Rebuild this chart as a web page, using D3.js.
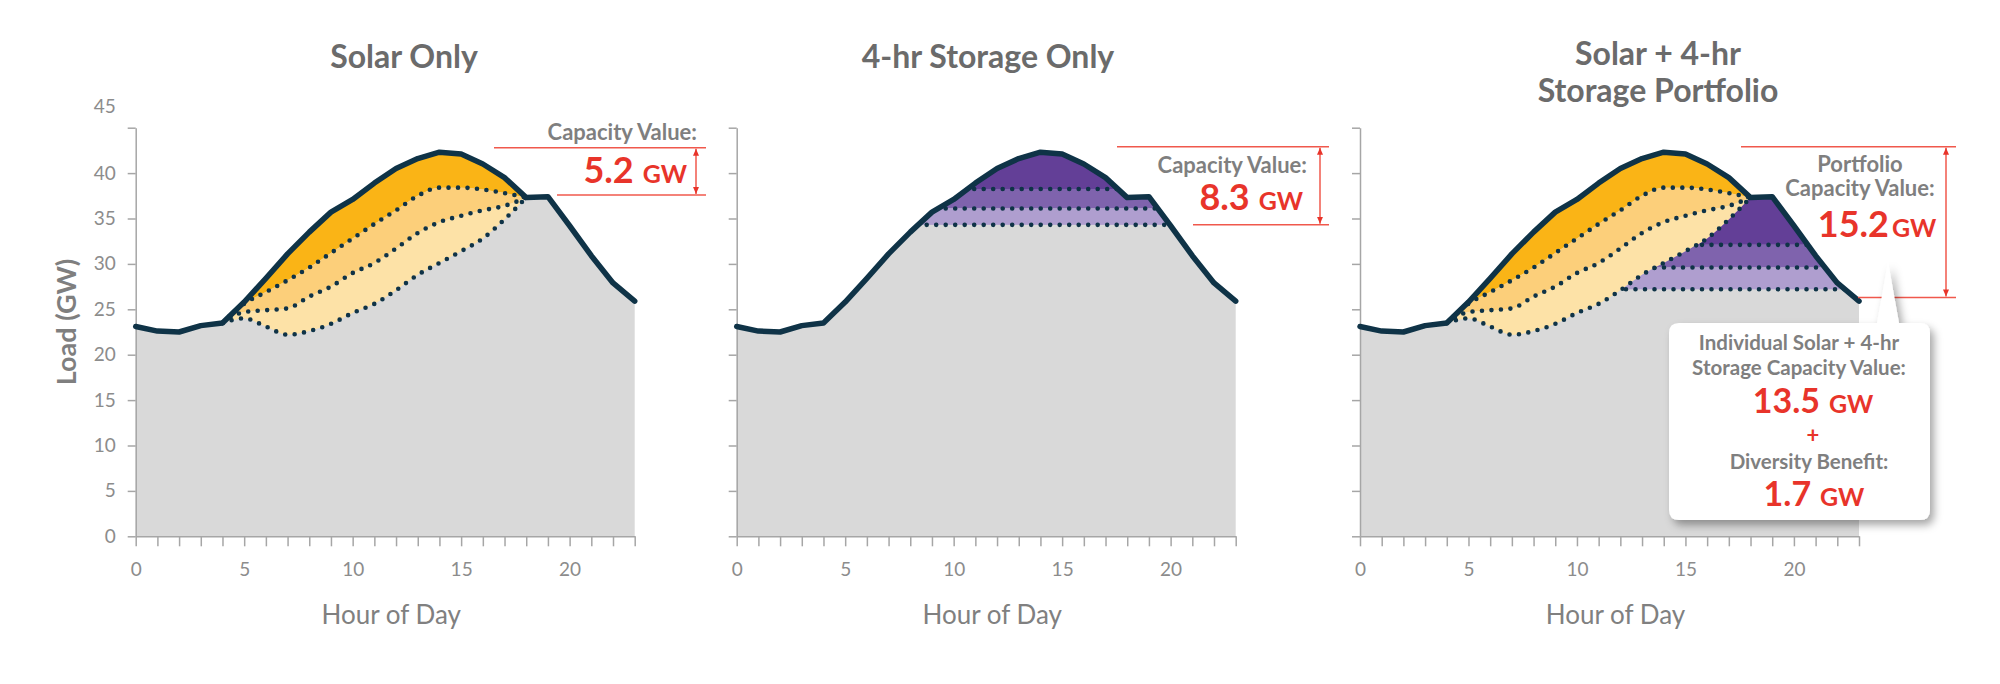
<!DOCTYPE html>
<meta charset="utf-8">
<style>
body { margin: 0; background: #fff; }
svg { display: block; font-family: Lato, "Open Sans", sans-serif; }
.axis path, .axis line { stroke: #a6a6a6; stroke-width: 1.5px; }
.axis text { fill: #8c8c8c; font-size: 19px; font-family: Lato, sans-serif; }
.title { fill: #6b6b6b; font-size: 32px; font-weight: bold; text-anchor: middle; }
.xlabel { fill: #808080; font-size: 26px; text-anchor: middle; }
.ylabel { fill: #7f7f7f; font-size: 27px; font-weight: bold; text-anchor: middle; }
.note { fill: #7f7f7f; font-size: 22px; font-weight: bold; }
.box .note { font-size: 20.5px; }
.big { fill: #e8342a; font-weight: bold; font-size: 36px; }
.box .big { font-size: 34px; }
.big tspan { font-size: 25px; }
.load { fill: none; stroke: #0f3347; stroke-width: 5.5px; stroke-linejoin: round; stroke-linecap: round; }
.dots { fill: none; stroke: #0f3347; stroke-width: 4.6px; stroke-linecap: round; stroke-dasharray: 0 9.5; }
.red { stroke: #f0584c; stroke-width: 1.5px; fill: none; }
</style>
<body>
<svg width="2000" height="684"></svg>
<script src="https://cdn.jsdelivr.net/npm/d3@7"></script>
<script>
// hourly load (GW)
var hours = d3.range(24);
var load = [23.1, 22.6, 22.5, 23.2, 23.5, 25.8, 28.4, 31.1, 33.5, 35.7, 37.1, 38.9,
            40.5, 41.6, 42.3, 42.1, 41.0, 39.5, 37.3, 37.4, 34.2, 30.9, 27.9, 25.9];

// net load after three solar tranches (hours 4..18)
var solarHours = d3.range(4, 19);
var solarNet1 = [23.5, 25.6, 26.9, 28.2, 29.6, 31.2, 32.8, 34.4, 35.9, 37.5, 38.4, 38.4, 38.2, 37.8, 37.3];
var solarNet2 = [23.5, 24.7, 24.9, 25.1, 26.4, 27.5, 29.0, 30.1, 31.7, 33.4, 34.6, 35.3, 35.9, 36.4, 37.3];
var solarNet3 = [23.5, 24.0, 23.1, 22.2, 22.6, 23.4, 24.6, 25.6, 27.1, 28.8, 30.1, 31.4, 32.8, 34.9, 37.3];

// storage dispatch levels (GW)
var storageLevels = [38.25, 36.1, 34.3];
var portfolioLevels = [32.1, 29.6, 27.2];

var panelTitles = [["Solar Only"], ["4-hr Storage Only"], ["Solar + 4-hr", "Storage Portfolio"]];
var yTicks = d3.range(0, 46, 5);
var xLabelTicks = [0, 5, 10, 15, 20];

// capacity value brackets (GW levels) and labels
var bracketTop = [42.8, 42.9, 42.9];
var bracketBottom = [37.6, 34.3, 26.3];
var capValues = ["5.2", "8.3", "15.2"];
var individualValue = "13.5";
var diversityValue = "1.7";

var orange = ["#fab416", "#fccf7a", "#fde2a7"];
var purple = ["#633f97", "#7f63ad", "#af9ecf"];
var gray = "#d9d9d9";

var svg = d3.select("svg"),
    defs = svg.append("defs"),
    panelX = [135.7, 736.7, 1360],
    plotTop = 127.7,
    width = 499,
    height = 408.6;

var x = d3.scaleLinear().domain([0, 23]).range([0, width]),
    y = d3.scaleLinear().domain([0, 45]).range([height, 0]);

function yAbs(v) { return plotTop + y(v); }

defs.append("marker")
    .attr("id", "arr")
    .attr("markerUnits", "userSpaceOnUse")
    .attr("markerWidth", 8).attr("markerHeight", 8)
    .attr("refX", 7).attr("refY", 4)
    .attr("orient", "auto-start-reverse")
  .append("path")
    .attr("d", "M0,1 L7,4 L0,7 z")
    .attr("fill", "#e8342a");

var shadow = defs.append("filter").attr("id", "shadow")
    .attr("x", "-20%").attr("y", "-20%").attr("width", "140%").attr("height", "140%");
shadow.append("feDropShadow")
    .attr("dx", 4).attr("dy", 5).attr("stdDeviation", 4)
    .attr("flood-color", "#000").attr("flood-opacity", 0.35);

var solarData = solarHours.map(function(h, j) {
  return {h: h, a: solarNet1[j], b: solarNet2[j], c: solarNet3[j]};
});

var loadArea = d3.area()
    .x(function(d, j) { return x(j); })
    .y0(y(0))
    .y1(function(d) { return y(d); });

var loadLine = d3.line()
    .x(function(d, j) { return x(j); })
    .y(function(d) { return y(d); });

function drawPanel(i, hasSolar, levels) {
  var g = svg.append("g").attr("transform", "translate(" + panelX[i] + "," + plotTop + ")");

  defs.append("clipPath").attr("id", "load" + i)
    .append("path").attr("d", loadArea(load));

  g.append("path").attr("d", loadArea(load)).attr("fill", gray);

  var inner = g.append("g").attr("clip-path", "url(#load" + i + ")");

  if (hasSolar) {
    var band = d3.area().curve(d3.curveMonotoneX).x(function(d) { return x(d.h); });
    inner.append("path").attr("fill", orange[0])
        .attr("d", band.y0(function(d) { return y(d.a); }).y1(y(45))(solarData));
    inner.append("path").attr("fill", orange[1])
        .attr("d", band.y0(function(d) { return y(d.b); }).y1(function(d) { return y(d.a); })(solarData));
    inner.append("path").attr("fill", orange[2])
        .attr("d", band.y0(function(d) { return y(d.c); }).y1(function(d) { return y(d.b); })(solarData));
  }

  if (levels) {
    var st = inner;
    if (hasSolar) {
      // storage sits under the net load left after solar
      var cp = defs.append("clipPath").attr("id", "net" + i);
      cp.append("path").attr("d", d3.area().curve(d3.curveMonotoneX)
          .x(function(d) { return x(d.h); }).y0(y(0)).y1(function(d) { return y(d.c); })(solarData));
      cp.append("rect").attr("x", x(0)).attr("y", 0).attr("width", x(solarHours[0]) - x(0)).attr("height", height);
      cp.append("rect").attr("x", x(solarHours[solarHours.length - 1])).attr("y", 0)
          .attr("width", x(23) - x(solarHours[solarHours.length - 1])).attr("height", height);
      st = inner.append("g").attr("clip-path", "url(#net" + i + ")");
    }
    var tops = [45].concat(levels.slice(0, 2));
    st.selectAll("rect.band").data(levels).enter().append("rect")
        .attr("class", "band")
        .attr("x", x(0)).attr("width", x(23) - x(0))
        .attr("y", function(d, j) { return y(tops[j]); })
        .attr("height", function(d, j) { return y(d) - y(tops[j]); })
        .attr("fill", function(d, j) { return purple[j]; });
    st.selectAll("line.lvl").data(levels).enter().append("line")
        .attr("class", "dots")
        .attr("x1", x(0)).attr("x2", x(23))
        .attr("y1", function(d) { return y(d); }).attr("y2", function(d) { return y(d); });
  }

  if (hasSolar) {
    ["a", "b", "c"].forEach(function(k) {
      g.append("path").attr("class", "dots")
          .attr("d", d3.line().curve(d3.curveMonotoneX)
            .x(function(d) { return x(d.h); })
            .y(function(d) { return y(d[k]); })(solarData));
    });
  }

  var ya = g.append("g").attr("class", "axis")
      .call(d3.axisLeft(y).tickValues(yTicks).tickSize(8).tickSizeOuter(0).tickPadding(12)
        .tickFormat(d3.format("d")));
  if (i > 0) ya.selectAll(".tick text").remove();
  ya.selectAll(".tick text").filter(function(d) { return d === 45; }).attr("y", -21);

  var xa = g.append("g").attr("class", "axis")
      .attr("transform", "translate(0," + y(0) + ")")
      .call(d3.axisBottom(x).tickValues(hours).tickSize(10).tickSizeOuter(0).tickPadding(16));
  xa.selectAll(".tick text").filter(function(d) { return xLabelTicks.indexOf(d) < 0; }).remove();

  g.append("path").attr("class", "load").attr("d", loadLine(load));

  g.append("text").attr("class", "xlabel")
      .attr("x", width / 2 + 6).attr("y", 496)
      .text("Hour of Day");
}

drawPanel(0, true, null);
drawPanel(1, false, storageLevels);
drawPanel(2, true, portfolioLevels);

// titles
var titleX = [404, 988, 1658];
panelTitles.forEach(function(lines, i) {
  lines.forEach(function(s, j) {
    svg.append("text").attr("class", "title")
        .attr("x", titleX[i]).attr("y", (lines.length > 1 ? 65 : 68) + j * 37)
        .text(s);
  });
});

svg.append("text").attr("class", "ylabel")
    .attr("transform", "translate(76,322) rotate(-90)")
    .text("Load (GW)");

// capacity value brackets
var brk = [
  {topX: 494, botX: 557, end: 706, arrowX: 696},
  {topX: 1117, botX: 1193, end: 1329, arrowX: 1320},
  {topX: 1741, botX: 1858, end: 1956, arrowX: 1946}
];
brk.forEach(function(b, i) {
  svg.append("line").attr("class", "red")
      .attr("x1", b.topX).attr("x2", b.end)
      .attr("y1", yAbs(bracketTop[i])).attr("y2", yAbs(bracketTop[i]));
  svg.append("line").attr("class", "red")
      .attr("x1", b.botX).attr("x2", b.end)
      .attr("y1", yAbs(bracketBottom[i])).attr("y2", yAbs(bracketBottom[i]));
  svg.append("line").attr("class", "red")
      .attr("x1", b.arrowX).attr("x2", b.arrowX)
      .attr("y1", yAbs(bracketTop[i]) + 1).attr("y2", yAbs(bracketBottom[i]) - 1)
      .attr("marker-start", "url(#arr)").attr("marker-end", "url(#arr)");
});

function bigValue(parent, xp, yp, anchor, value, gap) {
  var t = parent.append("text").attr("class", "big")
      .attr("x", xp).attr("y", yp).attr("text-anchor", anchor).text(value);
  t.append("tspan").attr("dx", gap).text("GW");
  return t;
}

svg.append("text").attr("class", "note").attr("x", 697).attr("y", 140)
    .attr("text-anchor", "end").text("Capacity Value:");
bigValue(svg, 687, 183, "end", capValues[0], 9);

svg.append("text").attr("class", "note").attr("x", 1307).attr("y", 173)
    .attr("text-anchor", "end").text("Capacity Value:");
bigValue(svg, 1303, 210, "end", capValues[1], 9);

svg.append("text").attr("class", "note").attr("x", 1860).attr("y", 172)
    .attr("text-anchor", "middle").text("Portfolio");
svg.append("text").attr("class", "note").attr("x", 1860).attr("y", 196)
    .attr("text-anchor", "middle").text("Capacity Value:");
bigValue(svg, 1877, 237, "middle", capValues[2], 3);

// callout box
var box = svg.append("g").attr("class", "box");
var bx0 = 1669, by0 = 323, bx1 = 1930, by1 = 520, r = 10;
var p = d3.path();
p.moveTo(bx0 + r, by0);
p.lineTo(1877, by0);
p.lineTo(1888, 262);
p.lineTo(1899, by0);
p.lineTo(bx1 - r, by0);
p.quadraticCurveTo(bx1, by0, bx1, by0 + r);
p.lineTo(bx1, by1 - r);
p.quadraticCurveTo(bx1, by1, bx1 - r, by1);
p.lineTo(bx0 + r, by1);
p.quadraticCurveTo(bx0, by1, bx0, by1 - r);
p.lineTo(bx0, by0 + r);
p.quadraticCurveTo(bx0, by0, bx0 + r, by0);
p.closePath();
box.append("path").attr("d", p.toString())
    .attr("fill", "#fff").attr("filter", "url(#shadow)");

box.append("text").attr("class", "note").attr("x", 1799).attr("y", 350)
    .attr("text-anchor", "middle").text("Individual Solar + 4-hr");
box.append("text").attr("class", "note").attr("x", 1799).attr("y", 375)
    .attr("text-anchor", "middle").text("Storage Capacity Value:");
bigValue(box, 1813, 413, "middle", individualValue, 9);
box.append("text").attr("class", "big").attr("x", 1813).attr("y", 443)
    .attr("text-anchor", "middle").style("font-size", "22px").text("+");
box.append("text").attr("class", "note").attr("x", 1809).attr("y", 469)
    .attr("text-anchor", "middle").text("Diversity Benefit:");
bigValue(box, 1814, 506, "middle", diversityValue, 9);
</script>
</body>
